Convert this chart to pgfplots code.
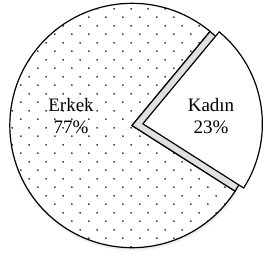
\documentclass[border=0pt]{standalone}
\usepackage{fontspec}
\setmainfont{Liberation Serif}
\usepackage{pgfplots}
\pgfplotsset{compat=1.18}
\usepackage{pgfplotstable}
\usetikzlibrary{patterns}
\pgfdeclarepatternformonly{sdots}{\pgfqpoint{0bp}{0bp}}{\pgfqpoint{16.67bp}{16.67bp}}{\pgfqpoint{16.67bp}{16.67bp}}{%
 \pgfpathcircle{\pgfqpoint{4bp}{4bp}}{0.9bp}%
 \pgfpathcircle{\pgfqpoint{12.33bp}{12.33bp}}{0.9bp}%
 \pgfusepath{fill}}
\pgfplotstableread{
label value
Erkek 77
Kadin 23
}\piedata
\begin{document}
\begin{tikzpicture}
\useasboundingbox (0,0) rectangle (265bp,258bp);
\pgfplotstablegetelem{0}{value}\of\piedata \let\vE\pgfplotsretval
\pgfplotstablegetelem{1}{value}\of\piedata \let\vK\pgfplotsretval
\pgfmathsetmacro\sK{-32.5}
\pgfmathsetmacro\eK{\sK+\vK*3.6}
\pgfmathsetmacro\mK{\sK+\vK*1.8}
\pgfmathsetmacro\eE{\eK+\vE*3.6}
\begin{axis}[at={(0,0)},anchor=south west,scale only axis,width=265bp,height=258bp,
  xmin=0,xmax=265,ymin=0,ymax=258,axis lines=none,clip=false]
% soft shadow
\fill[black!5] (axis cs:132.8,131) circle[radius=123.6bp];
\fill[black!9] (axis cs:132.4,131.6) circle[radius=122.8bp];
% Erkek
\draw[line width=1.2bp,fill=white,postaction={pattern=sdots}]
  (axis cs:132,132.5) -- ++(\eK:122.2bp) arc[start angle=\eK,end angle=\eE,radius=122.2bp] -- cycle;
% original position of Kadin (gray)
\draw[line width=1.2bp,fill=black!12]
  (axis cs:132,132.5) -- ++(\sK:122.2bp) arc[start angle=\sK,end angle=\eK,radius=122.2bp] -- cycle;
% exploded Kadin
\draw[line width=1.2bp,fill=white]
  (axis cs:132,132.5) ++(\mK:11bp) -- ++(\sK:119.5bp) arc[start angle=\sK,end angle=\eK,radius=119.5bp] -- cycle;
\node[align=center,font=\fontsize{19bp}{22bp}\selectfont,inner sep=0pt] at (axis cs:71,142) {Erkek\\77\%};
\node[align=center,font=\fontsize{19bp}{22bp}\selectfont,inner sep=0pt] at (axis cs:211,142) {Kadın\\23\%};
\end{axis}
\end{tikzpicture}
\end{document}
